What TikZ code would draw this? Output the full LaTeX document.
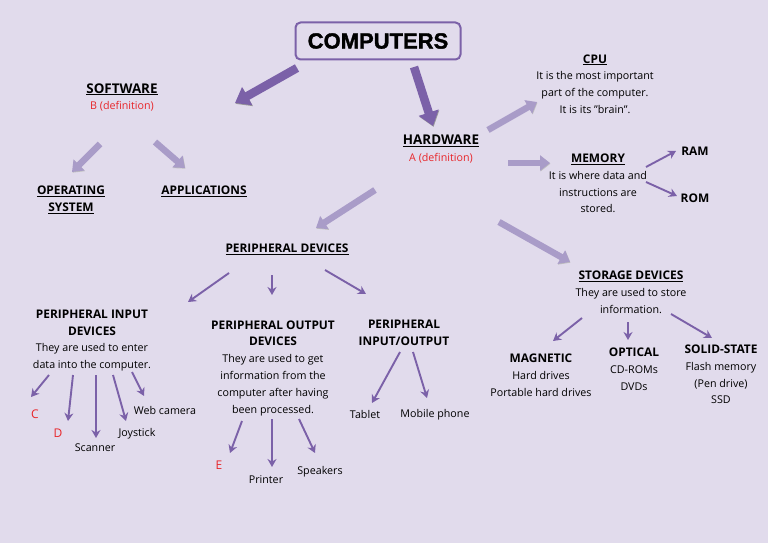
\documentclass[tikz,border=0pt]{standalone}
\usepackage{fontspec}
\setmainfont{Open Sans}
\newfontfamily\titlefont[BoldFont=*,BoldFeatures={FakeBold=1.6}]{Liberation Sans Bold}
\usetikzlibrary{arrows.meta}
\definecolor{pagebg}{HTML}{E1DBEC}
\definecolor{darkpurple}{HTML}{7B61A8}
\definecolor{lightpurple}{HTML}{A99CC8}
\definecolor{defred}{HTML}{E8262A}
\newcommand\hd[1]{{\fontsize{11.9}{16.8}\selectfont\bfseries #1}}
\newcommand\bighd[1]{{\fontsize{13.4}{18}\selectfont\bfseries\underline{#1}}}
\tikzset{
  txt/.style={inner sep=0,align=center,font=\fontsize{10.7}{16.8}\selectfont},
  letter/.style={inner sep=0,font=\fontsize{12}{14}\selectfont,text=defred},
  fatdark/.style={draw=darkpurple,line width=8.5pt,-{Triangle[width=20pt,length=14pt]},
    preaction={draw=black!40,transform canvas={xshift=.6pt,yshift=-.9pt}}},
  fatlight/.style={draw=lightpurple,line width=6.5pt,-{Triangle[width=15pt,length=10pt]},
    preaction={draw=black!25,transform canvas={xshift=.5pt,yshift=-.7pt}}},
  thin/.style={draw=darkpurple,line width=1.9pt,-{Stealth[length=8pt,width=9pt]}}
}
\begin{document}
\begin{tikzpicture}[x=1pt,y=-1pt]
\useasboundingbox(0,0)rectangle(768,543);
\fill[pagebg](0,0)rectangle(768,543);
\node[draw=darkpurple,line width=2pt,rounded corners=5pt,minimum width=165pt,minimum height=37pt,
  font=\titlefont\fontsize{22}{25}\selectfont\bfseries](computers)at(378,41){COMPUTERS};
\node[txt](software)at(122,97.5){\bighd{SOFTWARE}\\\textcolor{defred}{B (definition)}};
\node[txt](hardware)at(441,149){\bighd{HARDWARE}\\\textcolor{defred}{A (definition)}};
\node[txt](os)at(71,200){\hd{\underline{OPERATING}}\\\hd{\underline{SYSTEM}}};
\node[txt](apps)at(204,191){\hd{\underline{APPLICATIONS}}};
\node[txt](cpu)at(595,84){\hd{\underline{CPU}}\\It is the most important\\part of the computer.\\It is its "brain".};
\node[txt](memory)at(598,183.5){\hd{\underline{MEMORY}}\\It is where data and\\instructions are\\stored.};
\node[txt](ram)at(695,151.5){\hd{RAM}};
\node[txt](rom)at(695,198.5){\hd{ROM}};
\node[txt](periph)at(287,249){\hd{\underline{PERIPHERAL DEVICES}}};
\node[txt](storage)at(631,292.5){\hd{\underline{STORAGE DEVICES}}\\They are used to store\\information.};
\node[txt](magnetic)at(541,375){\hd{MAGNETIC}\\Hard drives\\Portable hard drives};
\node[txt](optical)at(634,369.5){\hd{OPTICAL}\\CD-ROMs\\DVDs};
\node[txt](solid)at(721,374.5){\hd{SOLID-STATE}\\Flash memory\\(Pen drive)\\SSD};
\node[txt](input)at(92,340.5){\hd{PERIPHERAL INPUT}\\\hd{DEVICES}\\They are used to enter\\data into the computer.};
\node[txt](output)at(273,368){\hd{PERIPHERAL OUTPUT}\\\hd{DEVICES}\\They are used to get\\information from the\\computer after having\\been processed.};
\node[txt](inout)at(404,333){\hd{PERIPHERAL}\\\hd{INPUT/OUTPUT}};
\node[letter](c)at(35,414){C};
\node[letter](d)at(58,433){D};
\node[letter](e)at(219,465){E};
\node[txt](scanner)at(95,447.5){Scanner};
\node[txt](joystick)at(137,433.5){Joystick};
\node[txt](webcam)at(165,410){Web camera};
\node[txt](printer)at(266,479.5){Printer};
\node[txt](speakers)at(320,471.5){Speakers};
\node[txt](tablet)at(365,414.5){Tablet};
\node[txt](mobile)at(435,414.5){Mobile phone};
% big arrows
\foreach \a/\ta/\b/\tb in {computers/{-81,27}/software/{113,5.5},computers/{36,26}/hardware/{-8,-23}}
\draw[fatdark]([shift={(\ta)}]\a.center)--([shift={(\tb)}]\b.center);
\foreach \a/\ta/\b/\tb in {hardware/{47,-19}/cpu/{-58,18},hardware/{67,14}/memory/{-48,-20.5},
  hardware/{58,73}/storage/{-61,-30.5},hardware/{-66,41}/periph/{29,-21},
  software/{-22,46.5}/os/{1,-28},software/{33,44.5}/apps/{-19,-23}}
\draw[fatlight]([shift={(\ta)}]\a.center)--([shift={(\tb)}]\b.center);
% thin arrows
\foreach \a/\ta/\b/\tb in {memory/{48,-16.5}/ram/{-19,-.5},memory/{48,-1.5}/rom/{-18,-2.5},
  periph/{-58,24}/input/{96,-38.5},periph/{-15,26}/output/{-1,-73},periph/{38,21}/inout/{-38,-39},
  storage/{-49,25.5}/magnetic/{12,-34},storage/{-3,29.5}/optical/{-6,-29.5},storage/{40,21.5}/solid/{-9,-36.5},
  input/{-43,34.5}/c/{-4,-17},input/{-19,34.5}/d/{10,-12},input/{4,34.5}/scanner/{1,-9.5},
  input/{21,34.5}/joystick/{-11,-12.5},input/{40,31.5}/webcam/{-21,-14},
  output/{-31,53}/e/{11,-12},output/{-1,51}/printer/{6,-12.5},output/{26,51}/speakers/{-5,-18.5},
  inout/{-4,19}/tablet/{7,-11.5},inout/{9,19}/mobile/{-8,-16.5}}
\draw[thin]([shift={(\ta)}]\a.center)--([shift={(\tb)}]\b.center);
\end{tikzpicture}
\end{document}
